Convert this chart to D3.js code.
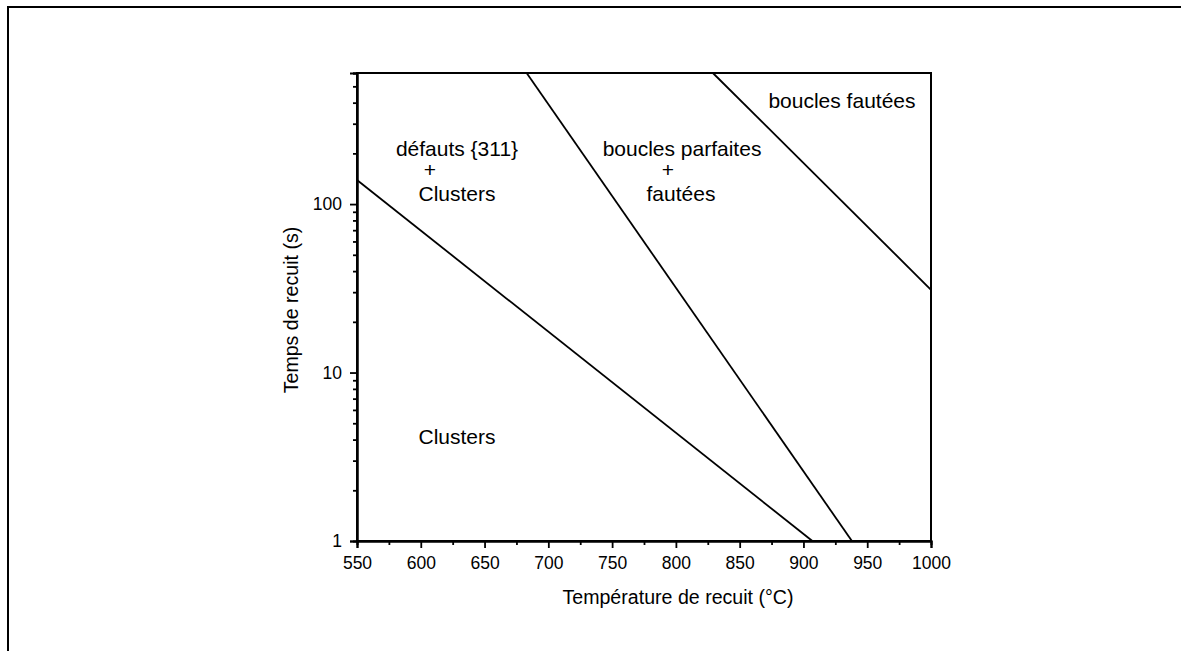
<!DOCTYPE html>
<html>
<head>
<meta charset="utf-8">
<script src="https://cdn.jsdelivr.net/npm/d3@7"></script>
<style>
  html, body { margin: 0; padding: 0; background: #fff; }
  svg { display: block; font-family: "Liberation Sans", Arial, sans-serif; }
</style>
</head>
<body>
<svg id="chart" width="1181" height="651"></svg>
<script>
// Boundary lines of the annealing map: [temperature °C, time s] endpoints
const boundary311 = [[550, 139], [907, 1]];
const boundaryLoops = [[683, 600], [938, 1]];
const boundaryFaulted = [[829, 600], [1000, 31]];
const boundaries = [boundary311, boundaryLoops, boundaryFaulted];

// Region labels, one entry per text line, anchored at [temperature, time]
const regionLabels = [
  { pos: [628.4, 194], text: "défauts {311}" },
  { pos: [607.2, 145], text: "+" },
  { pos: [628.4, 105], text: "Clusters" },
  { pos: [804.8, 194], text: "boucles parfaites" },
  { pos: [793.8, 145], text: "+" },
  { pos: [804.0, 105], text: "fautées" },
  { pos: [930.2, 374], text: "boucles fautées" },
  { pos: [628.4, 3.79], text: "Clusters" }
];

const xTicks = [550, 600, 650, 700, 750, 800, 850, 900, 950, 1000];
const xMinorTicks = [575, 625, 675, 725, 775, 825, 875, 925, 975];
const yTicks = [1, 10, 100];
const yMinorTicks = [2, 3, 4, 5, 6, 7, 8, 9, 20, 30, 40, 50, 60, 70, 80, 90, 200, 300, 400, 500, 600];

const xLabel = "Température de recuit (°C)";
const yLabel = "Temps de recuit (s)";

const svg = d3.select("#chart");
const plotLeft = 357, plotRight = 931, plotTop = 73, plotBottom = 541;

const x = d3.scaleLinear().domain([550, 1000]).range([plotLeft, plotRight]);
const y = d3.scaleLog().domain([1, 600]).range([plotBottom, plotTop]);

// Outer frame (open on the right and bottom)
svg.append("path")
  .attr("d", "M8,651 L8,7 L1181,7")
  .attr("fill", "none").attr("stroke", "#000").attr("stroke-width", 2);

// Plot box
svg.append("rect")
  .attr("x", plotLeft).attr("y", plotTop)
  .attr("width", plotRight - plotLeft).attr("height", plotBottom - plotTop)
  .attr("fill", "none").attr("stroke", "#000").attr("stroke-width", 2);

// X axis
svg.append("g").attr("transform", `translate(0,${plotBottom})`)
  .call(d3.axisBottom(x).tickValues(xTicks).tickFormat(d3.format("d")).tickSize(7).tickPadding(9))
  .selectAll(".tick text").style("font-size", "17.5px");
svg.append("g").attr("transform", `translate(0,${plotBottom})`)
  .call(d3.axisBottom(x).tickValues(xMinorTicks).tickFormat("").tickSize(4));

// Y axis
svg.append("g").attr("transform", `translate(${plotLeft},0)`)
  .call(d3.axisLeft(y).tickValues(yTicks).tickFormat(d3.format("d")).tickSize(7).tickPadding(8))
  .selectAll(".tick text").style("font-size", "17.5px");
svg.append("g").attr("transform", `translate(${plotLeft},0)`)
  .call(d3.axisLeft(y).tickValues(yMinorTicks).tickFormat("").tickSize(4));

svg.selectAll(".domain").attr("stroke", "#000").attr("stroke-width", 2);
svg.selectAll(".tick line").attr("stroke", "#000").attr("stroke-width", 1.8);
svg.selectAll(".tick text")
  .attr("fill", "#000")
  .style("font-family", "'Liberation Sans', Arial, sans-serif");

// Boundary lines
const line = d3.line().x(d => x(d[0])).y(d => y(d[1]));
svg.append("g").selectAll("path").data(boundaries).join("path")
  .attr("d", line)
  .attr("fill", "none").attr("stroke", "#000").attr("stroke-width", 1.8);

// Region labels
svg.append("g").selectAll("text").data(regionLabels).join("text")
  .attr("x", d => x(d.pos[0]))
  .attr("y", d => y(d.pos[1]))
  .attr("text-anchor", "middle")
  .attr("font-size", 21)
  .attr("fill", "#000")
  .text(d => d.text);

// Axis titles
svg.append("text")
  .attr("x", 678).attr("y", 604)
  .attr("text-anchor", "middle").attr("font-size", 19.6).attr("fill", "#000")
  .text(xLabel);
svg.append("text")
  .attr("transform", `translate(298,310) rotate(-90)`)
  .attr("text-anchor", "middle").attr("font-size", 19.6).attr("fill", "#000")
  .text(yLabel);
</script>
</body>
</html>
